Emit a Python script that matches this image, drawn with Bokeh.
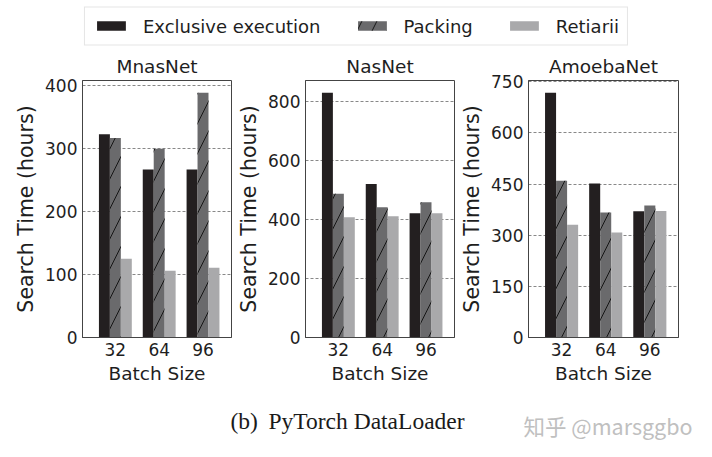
from bokeh.plotting import figure
from bokeh.models import Range1d, FixedTicker, Legend, LegendItem, Label, ColumnDataSource
from bokeh.layouts import column, row
from bokeh.embed import file_html
from bokeh.resources import INLINE

# ---------------- data ----------------
batch_sizes = ["32", "64", "96"]
series_names = ["Exclusive execution", "Packing", "Retiarii"]
models = ["MnasNet", "NasNet", "AmoebaNet"]

mnasnet_exclusive = [323, 267, 267]
mnasnet_packing = [317, 300, 389]
mnasnet_retiarii = [125, 106, 111]

nasnet_exclusive = [829, 520, 421]
nasnet_packing = [487, 441, 458]
nasnet_retiarii = [407, 411, 421]

amoebanet_exclusive = [718, 452, 370]
amoebanet_packing = [460, 367, 387]
amoebanet_retiarii = [331, 308, 371]

mnasnet_yticks = [0, 100, 200, 300, 400]
nasnet_yticks = [0, 200, 400, 600, 800]
amoebanet_yticks = [0, 150, 300, 450, 600, 750]

x_label = "Batch Size"
y_label = "Search Time (hours)"
caption_tag = "(b)"
caption_text = "PyTorch DataLoader"
watermark = "知乎 @marsggbo"

# ---------------- styles ----------------
FONT = "DejaVu Sans"
TXT = "#1e1e1e"
C_EXCL = "#231f20"
C_PACK = "#6a6a6c"
C_RET = "#a9a9ab"
BAR_W = 0.25
H = 339

def style_bar(kind):
    if kind == 0:
        return dict(fill_color=C_EXCL, line_color=None)
    if kind == 1:
        return dict(fill_color=C_PACK, line_color=None, hatch_pattern="/",
                    hatch_color="#151515", hatch_scale=30, hatch_weight=1)
    return dict(fill_color=C_RET, line_color=None)


def make_panel(title, series, yticks, ymax, width, left, right):
    p = figure(width=width, height=H, output_backend="svg", toolbar_location=None,
               x_range=Range1d(-0.75, 2.65), y_range=Range1d(0, ymax),
               min_border_left=left, min_border_right=right,
               min_border_top=29, min_border_bottom=53)
    idx = list(range(len(batch_sizes)))
    offsets = [-BAR_W, 0.0, BAR_W]
    for k, vals in enumerate(series):
        src = ColumnDataSource(dict(x=[i + offsets[k] for i in idx], top=vals))
        p.vbar(x="x", top="top", width=BAR_W, bottom=0, source=src, **style_bar(k))

    p.title.text = title
    p.title.align = "center"
    p.title.vertical_align = "middle"
    p.title.text_font = FONT
    p.title.text_font_size = "18.5px"
    p.title.text_font_style = "normal"
    p.title.text_color = TXT
    p.title.standoff = 6

    p.xaxis.ticker = FixedTicker(ticks=idx)
    p.xaxis.major_label_overrides = {i: b for i, b in enumerate(batch_sizes)}
    p.yaxis.ticker = FixedTicker(ticks=yticks)
    p.xaxis.axis_label = x_label
    p.yaxis.axis_label = y_label
    for ax in (p.xaxis, p.yaxis):
        ax.major_label_text_font = FONT
        ax.major_label_text_font_size = "17px"
        ax.major_label_text_color = TXT
        ax.axis_label_text_font = FONT
        ax.axis_label_text_font_style = "normal"
        ax.axis_label_text_color = TXT
        ax.major_tick_out = 0
        ax.major_tick_in = 0
        ax.minor_tick_out = 0
        ax.minor_tick_in = 0
        ax.axis_line_color = "#444444"
        ax.major_label_standoff = 5
        ax.axis_label_standoff = 4
    p.xaxis.axis_label_text_font_size = "18.5px"
    p.yaxis.axis_label_text_font_size = "20.5px"
    p.xgrid.visible = False
    p.ygrid.grid_line_color = "#6a6a6a"
    p.ygrid.grid_line_dash = "3 2"
    p.ygrid.grid_line_width = 0.8
    p.outline_line_color = "#444444"
    p.outline_line_width = 1
    p.outline_line_alpha = 1
    return p


p1 = make_panel(models[0], [mnasnet_exclusive, mnasnet_packing, mnasnet_retiarii],
                mnasnet_yticks, max(mnasnet_packing) * 1.05, 233, 82, 2)
p2 = make_panel(models[1], [nasnet_exclusive, nasnet_packing, nasnet_retiarii],
                nasnet_yticks, max(nasnet_exclusive) * 1.05, 223, 72, 2)
p3 = make_panel(models[2], [amoebanet_exclusive, amoebanet_packing, amoebanet_retiarii],
                amoebanet_yticks, max(amoebanet_exclusive) * 1.05, 256, 72, 34)

# ---------------- legend strip ----------------
leg = figure(width=712, height=51, output_backend="svg", toolbar_location=None,
             x_range=Range1d(0, 1), y_range=Range1d(0, 1),
             x_axis_location=None, y_axis_location=None, min_border=0)
leg.outline_line_color = None
leg.xgrid.visible = False
leg.ygrid.visible = False
items = []
for k, name in enumerate(series_names):
    # proxy renderers placed outside the visible range: only their legend swatches show
    r = leg.vbar(x="x", top="top", width=0.1, bottom=5,
                 source=ColumnDataSource(dict(x=[5], top=[6])), **style_bar(k))
    items.append(LegendItem(label=name, renderers=[r]))
legend = Legend(items=items, orientation="horizontal", location="center",
                glyph_width=36, glyph_height=12, label_standoff=14, spacing=33,
                padding=8, margin=0, label_text_font=FONT, label_text_font_size="18px",
                label_text_color=TXT, border_line_color="#cccccc", border_line_width=1,
                background_fill_color="white", background_fill_alpha=1)
leg.add_layout(legend, "center")

# ---------------- caption strip ----------------
cap = figure(width=712, height=67, output_backend="svg", toolbar_location=None,
             x_range=Range1d(0, 1), y_range=Range1d(0, 1),
             x_axis_location=None, y_axis_location=None, min_border=0)
cap.outline_line_color = None
cap.xgrid.visible = False
cap.ygrid.visible = False
cap.add_layout(Label(x=230, y=37, x_units="screen", y_units="screen", text=caption_tag,
                     text_font="Liberation Serif", text_font_size="23.5px",
                     text_color="#1a1a1a", text_baseline="middle"))
cap.add_layout(Label(x=268, y=37, x_units="screen", y_units="screen", text=caption_text,
                     text_font="Liberation Serif", text_font_size="23.5px",
                     text_color="#1a1a1a", text_baseline="middle"))
cap.add_layout(Label(x=523, y=32, x_units="screen", y_units="screen", text=watermark,
                     text_font="Noto Sans CJK SC", text_font_size="21.5px",
                     text_color="#c0c0c0", text_baseline="middle"))

layout = column(leg, row(p1, p2, p3, spacing=0), cap, spacing=0)
open("out.html", "w").write(file_html(layout, INLINE))
